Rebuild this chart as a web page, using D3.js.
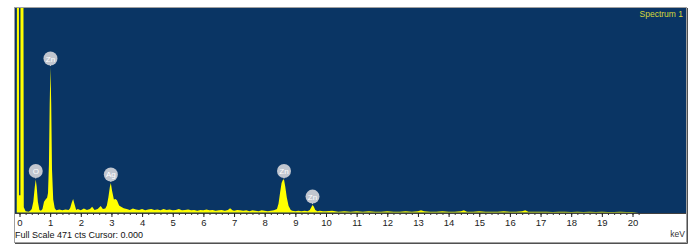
<!DOCTYPE html>
<html>
<head>
<meta charset="utf-8">
<script src="https://cdn.jsdelivr.net/npm/d3@7"></script>
<style>
  body { margin: 0; background: #fff; }
  text { font-family: "Liberation Sans", Arial, sans-serif; }
</style>
</head>
<body>
<svg width="700" height="250"></svg>
<script>
// spectrum points: energy (keV) and counts
let energies = [
  -0.09, -0.08, -0.02, -0.015, 0.03, 0.035, 0.12, 0.14, 0.2, 0.3,
  0.35, 0.4, 0.45, 0.5, 0.53, 0.56, 0.6, 0.65, 0.7, 0.75,
  0.8, 0.85, 0.9, 0.93, 0.96, 0.985, 1.01, 1.035, 1.06, 1.1,
  1.15, 1.2, 1.3, 1.4, 1.5, 1.6, 1.65, 1.7, 1.75, 1.8, 1.85,
  1.9, 2.0, 2.1, 2.2, 2.3, 2.37, 2.45, 2.55, 2.65, 2.72,
  2.8, 2.85, 2.9, 2.95, 2.98, 3.02, 3.08, 3.13, 3.18, 3.25,
  3.3, 3.4, 3.5, 3.6, 3.7, 3.8, 3.9, 4.0, 4.1, 4.2,
  4.3, 4.4, 4.5, 4.6, 4.7, 4.8, 4.9, 5.0, 5.1, 5.2,
  5.3, 5.4, 5.5, 5.6, 5.7, 5.8, 5.9, 6.0, 6.1, 6.2,
  6.3, 6.4, 6.5, 6.6, 6.7, 6.8, 6.87, 6.95, 7.0, 7.1,
  7.2, 7.3, 7.4, 7.5, 7.6, 7.7, 7.8, 7.9, 8.0, 8.1,
  8.2, 8.3, 8.4, 8.45, 8.5, 8.55, 8.6, 8.63, 8.67, 8.72,
  8.78, 8.85, 8.9, 9.0, 9.1, 9.2, 9.3, 9.4, 9.47, 9.52,
  9.56, 9.6, 9.65, 9.72, 9.8, 9.9, 10.0, 10.2, 10.4, 10.6,
  10.8, 11.0, 11.2, 11.4, 11.6, 11.8, 12.0, 12.2, 12.4, 12.6,
  12.8, 13.0, 13.1, 13.2, 13.4, 13.6, 13.8, 14.0, 14.2, 14.4,
  14.5, 14.6, 14.8, 15.0, 15.2, 15.4, 15.6, 15.8, 16.0, 16.2,
  16.4, 16.5, 16.6, 16.8, 17.0, 17.2, 17.4, 17.6, 17.8, 18.0,
  18.2, 18.4, 18.6, 18.8, 19.0, 19.2, 19.4, 19.6, 19.8, 20.0,
  20.2
];
let counts = [
  0, 900, 900, 40, 40, 900, 900, 12, 3, 2,
  4, 8, 25, 60, 76, 60, 25, 6, 4, 8,
  25, 30, 34, 45, 110, 250, 335, 250, 100, 30,
  10, 5, 7, 5, 7, 6, 10, 22, 31, 18, 6,
  8, 5, 9, 6, 8, 13, 6, 8, 15, 8,
  9, 16, 35, 60, 68, 50, 30, 31, 28, 16,
  14, 10, 8, 6, 9, 7, 6, 8, 5, 7,
  8, 6, 7, 5, 8, 6, 7, 5, 6, 8,
  5, 6, 7, 5, 6, 4, 6, 5, 7, 5,
  6, 4, 5, 6, 4, 6, 10, 5, 4, 6,
  5, 4, 5, 3, 5, 4, 3, 5, 4, 3,
  4, 5, 8, 20, 45, 68, 76, 76, 60, 35,
  15, 6, 4, 3, 4, 3, 4, 3, 6, 12,
  17, 14, 6, 3, 4, 3, 3, 4, 2, 3,
  2, 3, 2, 3, 2, 2, 3, 2, 2, 3,
  2, 3, 5, 3, 2, 2, 3, 2, 2, 3,
  5, 2, 2, 3, 2, 2, 2, 3, 2, 2,
  3, 5, 2, 2, 2, 2, 1, 2, 2, 1,
  2, 1, 2, 1, 2, 1, 1, 2, 1, 1,
  0
];

let peakEnergies = [0.53, 1.01, 2.98, 8.63, 9.56];
let peakLabels = ["O", "Zn", "Ag", "Zn", "Zn"];
let majorTicks = d3.range(0, 21);
let fullScale = 471;

let svg = d3.select("svg");
let plot = {left: 15, right: 686, top: 8, bottom: 213};

let x = d3.scaleLinear().domain([0, 20]).range([19.5, 632.5]),
    y = d3.scaleLinear().domain([0, fullScale]).range([212.5, 8]);

// outer frame with a little shadow
svg.append("rect")
    .attr("x", 14.5).attr("y", 7.5)
    .attr("width", 672).attr("height", 235)
    .attr("fill", "#fff").attr("stroke", "#a0a0a0");
svg.append("path")
    .attr("d", "M687.5,8 V243.5 H15")
    .attr("fill", "none").attr("stroke", "#505050");

svg.append("rect")
    .attr("x", plot.left).attr("y", plot.top)
    .attr("width", plot.right - plot.left)
    .attr("height", plot.bottom - plot.top)
    .attr("fill", "#0a3564");

svg.append("clipPath").attr("id", "clip")
  .append("rect")
    .attr("x", plot.left).attr("y", plot.top)
    .attr("width", plot.right - plot.left)
    .attr("height", plot.bottom - plot.top);

let pts = energies.map((e, i) => ({e: e, c: counts[i]}));

let area = d3.area()
    .x(d => x(d.e))
    .y0(y(0))
    .y1(d => y(d.c));

svg.append("path")
    .datum(pts)
    .attr("clip-path", "url(#clip)")
    .attr("fill", "#ffff00")
    .attr("d", area);

// peak labels
let lab = svg.append("g").attr("class", "labels");
peakEnergies.forEach((e, i) => {
  let c = counts[energies.indexOf(e)];
  let px = x(e), py = y(c);
  lab.append("line")
      .attr("x1", px).attr("x2", px)
      .attr("y1", py - 1).attr("y2", py - 8)
      .attr("stroke", "#c8ccd4").attr("stroke-width", 1);
  lab.append("circle")
      .attr("cx", px).attr("cy", py - 8.5)
      .attr("r", 7)
      .attr("fill", "#c1c6cf");
  lab.append("text")
      .attr("x", px).attr("y", py - 5.5)
      .attr("text-anchor", "middle")
      .attr("font-size", "8px")
      .attr("fill", "#fff")
      .text(peakLabels[i]);
});

// axis
svg.append("line")
    .attr("x1", plot.left).attr("x2", plot.right)
    .attr("y1", 213.5).attr("y2", 213.5)
    .attr("stroke", "#404040");

let minor = svg.append("g")
    .attr("transform", "translate(0,213)")
    .call(d3.axisBottom(x).tickValues(d3.range(0, 20.3, 0.2)).tickSize(2).tickFormat(""));
minor.select(".domain").remove();
minor.selectAll("line").attr("stroke", "#333");

let major = svg.append("g")
    .attr("transform", "translate(0,213)")
    .call(d3.axisBottom(x).tickValues(majorTicks).tickSize(4).tickPadding(2));
major.select(".domain").remove();
major.selectAll("line").attr("stroke", "#222");
major.selectAll("text")
    .attr("font-size", "9.5px")
    .attr("font-family", "Liberation Sans, Arial, sans-serif")
    .attr("fill", "#222");

svg.append("text")
    .attr("x", 15).attr("y", 238)
    .attr("font-size", "9px")
    .attr("fill", "#111")
    .text("Full Scale " + fullScale + " cts Cursor: 0.000");

svg.append("text")
    .attr("x", 685).attr("y", 237)
    .attr("text-anchor", "end")
    .attr("font-size", "8.5px")
    .attr("fill", "#333")
    .text("keV");

svg.append("text")
    .attr("x", 683).attr("y", 17)
    .attr("text-anchor", "end")
    .attr("font-size", "8.5px")
    .attr("fill", "#d6d83a")
    .text("Spectrum 1");
</script>
</body>
</html>
